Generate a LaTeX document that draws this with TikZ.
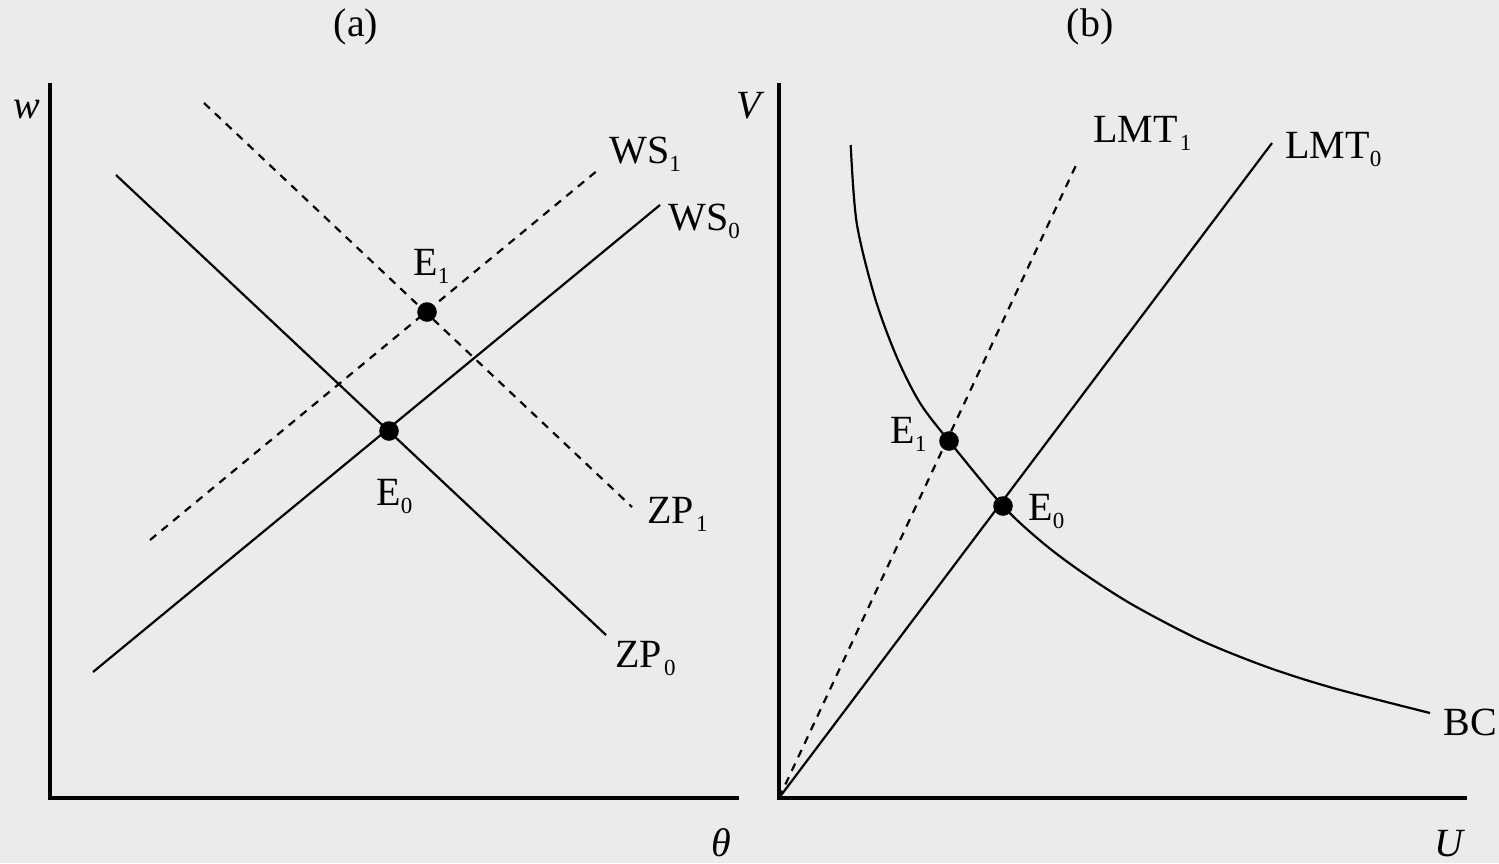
\documentclass[tikz,border=0pt]{standalone}
\usepackage{fontspec}
\setmainfont{Liberation Serif}
\newcommand\lsub[1]{\raisebox{-4.2pt}{\fontsize{11.5}{11.5}\selectfont #1}}
\definecolor{bgc}{RGB}{235,235,235}
\begin{document}
\begin{tikzpicture}[x=0.5pt,y=-0.5pt,
  lbl/.style={inner sep=0pt,font=\fontsize{20}{20}\selectfont},
  axisline/.style={line width=2pt},
  curve/.style={line width=1.1pt},
  dashcurve/.style={line width=1.1pt,dash pattern=on 4pt off 3.5pt},
  dot/.style={circle,fill=black,inner sep=0pt,minimum size=9.8pt}]
\fill[bgc] (0,0) rectangle (1499,863);
\useasboundingbox (0,0) rectangle (1499,863);
% titles
\node[lbl] (ta) at (356,27) {(a)};
\node[lbl] (tb) at (1090,27) {(b)};
% ---------- panel (a) ----------
\coordinate (aTop) at (50,83);
\coordinate (aO) at (50,798);
\coordinate (aR) at (739,798);
\draw[axisline] (aTop) -- (aO) -- (aR);
\node[lbl,anchor=base] (lw) at (27,118) {\itshape w};
\node[lbl,anchor=base] (lth) at (721,856) {\itshape θ};
\coordinate (zp0s) at (116,175);
\coordinate (zp0e) at (606,635);
\coordinate (ws0s) at (93,672);
\coordinate (ws0e) at (660,205);
\coordinate (zp1s) at (204,103);
\coordinate (zp1e) at (632,507);
\coordinate (ws1s) at (150,540);
\coordinate (ws1e) at (598,170);
\draw[curve] (zp0s) -- (zp0e);
\draw[curve] (ws0s) -- (ws0e);
\draw[dashcurve] (zp1s) -- (zp1e);
\draw[dashcurve] (ws1s) -- (ws1e);
\node[dot] (e1a) at (427,312) {};
\node[dot] (e0a) at (389,431) {};
\node[lbl,anchor=base west] (lws1) at (609,163) {WS\lsub{1}};
\node[lbl,anchor=base west] (lws0) at (668,230) {WS\lsub{0}};
\node[lbl,anchor=base west] (lzp1) at (647,523) {ZP\kern1pt\lsub{1}};
\node[lbl,anchor=base west] (lzp0) at (615,667) {ZP\kern1pt\lsub{0}};
\node[lbl,anchor=base west] (le1a) at (413,275) {E\lsub{1}};
\node[lbl,anchor=base west] (le0a) at (376,505) {E\lsub{0}};
% ---------- panel (b) ----------
\coordinate (bTop) at (779,83);
\coordinate (bO) at (779,798);
\coordinate (bR) at (1467,798);
\draw[axisline] (bTop) -- (bO) -- (bR);
\node[lbl,anchor=base] (lv) at (749,118) {\itshape V};
\node[lbl,anchor=base] (lu) at (1449,856) {\itshape U};
\coordinate (lmt0e) at (1272,143);
\coordinate (lmt1e) at (1078,161);
\draw[curve] (bO) -- (lmt0e);
\draw[dashcurve] (bO) -- (lmt1e);
\draw[curve] plot[smooth,tension=0.5] coordinates {(850.7,145) (856.7,223) (875,298) (896.7,357) (920,403) (949,441) (1003,506) (1043,543) (1083,573) (1133,605) (1200,640) (1267,667) (1333,688) (1430,713)};
\node[dot] (e1b) at (949,441) {};
\node[dot] (e0b) at (1003,506) {};
\node[lbl,anchor=base west] (llmt1) at (1093,142) {LMT\kern1pt\lsub{1}};
\node[lbl,anchor=base west] (llmt0) at (1285,158) {LMT\lsub{0}};
\node[lbl,anchor=base west] (le1b) at (890,443) {E\lsub{1}};
\node[lbl,anchor=base west] (le0b) at (1028,520) {E\lsub{0}};
\node[lbl,anchor=base west] (lbc) at (1443,735) {BC};
\end{tikzpicture}
\end{document}
